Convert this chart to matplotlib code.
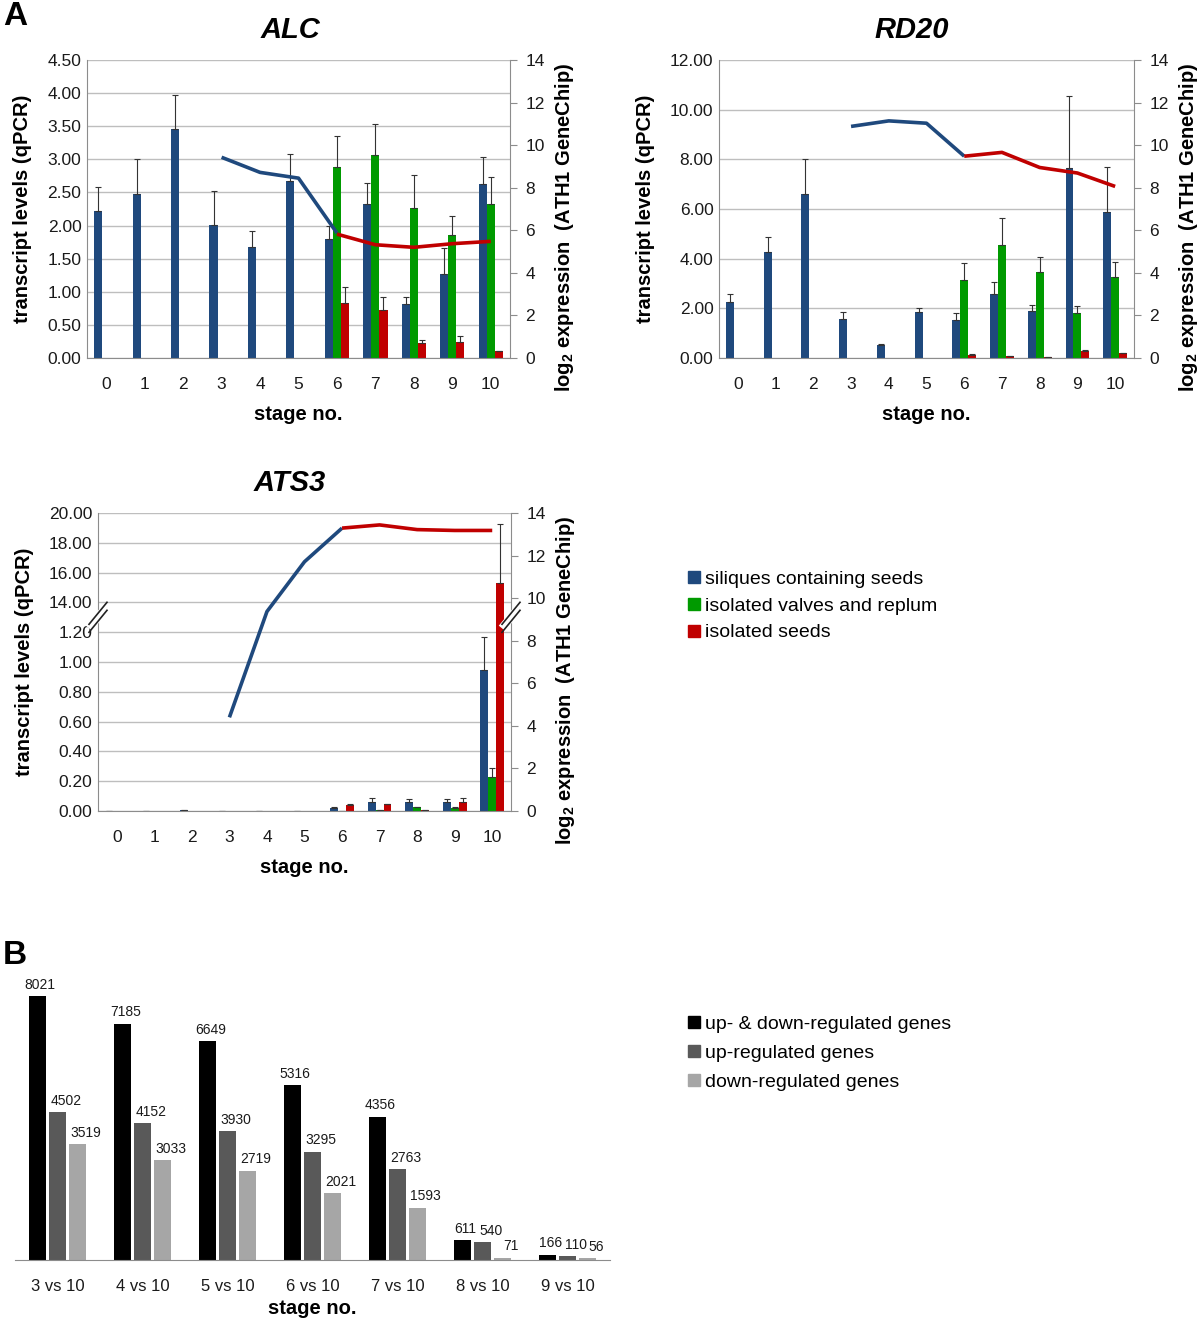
import matplotlib
matplotlib.use("Agg")
import matplotlib.pyplot as plt
import numpy as np
from matplotlib.lines import Line2D

plt.rcParams['font.family'] = ['Liberation Sans', 'DejaVu Sans']
plt.rcParams['mathtext.fontset'] = 'custom'
plt.rcParams['mathtext.rm'] = 'Liberation Sans'
plt.rcParams['mathtext.bf'] = 'Liberation Sans:bold'

# ---- data, panel A ----
stages = np.arange(11)
tissue_stages = np.arange(6, 11)
chip_sil_stages = np.arange(3, 7)
chip_seed_stages = np.arange(6, 11)

alc_sil = [2.22, 2.48, 3.46, 2.01, 1.68, 2.67, 1.80, 2.32, 0.81, 1.27, 2.63]
alc_sil_err = [0.36, 0.52, 0.51, 0.51, 0.24, 0.41, 0.20, 0.33, 0.11, 0.39, 0.40]
alc_valve = [2.88, 3.06, 2.27, 1.86, 2.32]
alc_valve_err = [0.47, 0.47, 0.50, 0.28, 0.42]
alc_seed = [0.83, 0.72, 0.23, 0.24, 0.10]
alc_seed_err = [0.24, 0.20, 0.04, 0.09, 0.01]
alc_chip_sil = [9.43, 8.72, 8.45, 5.87]
alc_chip_seed = [5.82, 5.32, 5.20, 5.37, 5.48]

rd20_sil = [2.25, 4.26, 6.59, 1.57, 0.51, 1.85, 1.54, 2.59, 1.88, 7.67, 5.88]
rd20_sil_err = [0.32, 0.63, 1.42, 0.28, 0.05, 0.16, 0.27, 0.47, 0.26, 2.87, 1.81]
rd20_valve = [3.14, 4.56, 3.46, 1.82, 3.28]
rd20_valve_err = [0.68, 1.07, 0.59, 0.27, 0.57]
rd20_seed = [0.13, 0.07, 0.05, 0.29, 0.21]
rd20_seed_err = [0.02, 0.01, 0.01, 0.02, 0.01]
rd20_chip_sil = [10.88, 11.14, 11.03, 9.48]
rd20_chip_seed = [9.48, 9.66, 8.95, 8.69, 8.06]

ats3_sil = [0.002, 0.002, 0.008, 0.002, 0.002, 0.002, 0.022, 0.06, 0.06, 0.06, 0.948]
ats3_sil_err = [0, 0, 0, 0, 0, 0, 0.004, 0.025, 0.023, 0.023, 0.218]
ats3_valve = [0.003, 0.007, 0.025, 0.02, 0.231]
ats3_valve_err = [0, 0, 0.005, 0.005, 0.056]
ats3_seed = [0.038, 0.045, 0.006, 0.06, 15.28]
ats3_seed_err = [0.011, 0.005, 0, 0.025, 4.0]
ats3_chip_sil = [4.40, 9.37, 11.71, 13.29]
ats3_chip_seed = [13.29, 13.44, 13.22, 13.18, 13.18]

tissue_labels = ['siliques containing seeds', 'isolated valves and replum', 'isolated seeds']

# ---- data, panel B ----
comparisons = ['3 vs 10', '4 vs 10', '5 vs 10', '6 vs 10', '7 vs 10', '8 vs 10', '9 vs 10']
genes_all = [8021, 7185, 6649, 5316, 4356, 611, 166]
genes_up = [4502, 4152, 3930, 3295, 2763, 540, 110]
genes_down = [3519, 3033, 2719, 2021, 1593, 71, 56]
gene_labels = ['up- & down-regulated genes', 'up-regulated genes', 'down-regulated genes']

BLUE = '#1F497D'
GREEN = '#009A00'
RED = '#C00000'
GRAY = '#8C8C8C'
TXT = '#1A1A1A'

fig = plt.figure(figsize=(12, 13.21), dpi=100)
H = 1321.0


def px_axes(left, right, top, bottom):
    return fig.add_axes([left / 1200.0, 1 - bottom / H, (right - left) / 1200.0, (bottom - top) / H])


def draw_panel(ax, title, sil, sil_err, valve, valve_err, seed, seed_err, chip_sil, chip_seed, title_x):
    w = 0.21
    ekw = dict(ecolor='#333333', elinewidth=0.8, capsize=2, capthick=0.8)
    ax.bar(stages - w, sil, w, color=BLUE, yerr=[np.zeros(len(sil)), sil_err], error_kw=ekw, zorder=2)
    ax.bar(tissue_stages, valve, w, color=GREEN, yerr=[np.zeros(len(valve)), valve_err], error_kw=ekw, zorder=2)
    ax.bar(tissue_stages + w, seed, w, color=RED, yerr=[np.zeros(len(seed)), seed_err], error_kw=ekw, zorder=2)
    ax.set_xlim(-0.5, 10.5)
    ax.set_xticks(stages)
    ax.yaxis.grid(True, color='#BEBEBE', lw=1)
    ax.set_axisbelow(True)
    ax.spines['top'].set_visible(False)
    ax.spines['right'].set_visible(False)
    for s in ('left', 'bottom'):
        ax.spines[s].set_color(GRAY)
    ax.tick_params(axis='both', length=0, labelsize=12.5, labelcolor=TXT)
    ax.tick_params(axis='x', pad=14)
    ax.tick_params(axis='y', pad=4)
    ax.set_xlabel('stage no.', fontsize=14.5, fontweight='bold', labelpad=9)
    ax.set_ylabel('transcript levels (qPCR)', fontsize=14.5, fontweight='bold', labelpad=11)
    ax.set_title(title, fontsize=21, fontweight='bold', style='italic', pad=16, x=title_x)

    ax2 = ax.twinx()
    ax2.plot(chip_sil_stages, chip_sil, color=BLUE, lw=2.6, solid_capstyle='butt')
    ax2.plot(chip_seed_stages, chip_seed, color=RED, lw=2.6, solid_capstyle='butt')
    ax2.set_ylim(0, 14)
    ax2.set_yticks(np.arange(0, 15, 2))
    for s in ('top', 'left', 'bottom'):
        ax2.spines[s].set_visible(False)
    ax2.spines['right'].set_color(GRAY)
    ax2.tick_params(axis='y', length=5, color=GRAY, labelsize=12.5, labelcolor=TXT, pad=6)
    ax2.set_ylabel(r'log$_\mathbf{2}$ expression  (ATH1 GeneChip)', fontsize=14.5,
                   fontweight='bold', labelpad=6)
    ax2.yaxis.label.set_y(0.44)
    return ax2


# ALC
ax = px_axes(87, 510, 60, 358)
draw_panel(ax, 'ALC', alc_sil, alc_sil_err, alc_valve, alc_valve_err, alc_seed, alc_seed_err,
           alc_chip_sil, alc_chip_seed, 0.48)
ax.set_ylim(0, 4.5)
ax.set_yticks(np.arange(0, 4.51, 0.5))
ax.yaxis.set_major_formatter('{x:.2f}')

# RD20
ax = px_axes(719, 1134, 60, 358)
draw_panel(ax, 'RD20', rd20_sil, rd20_sil_err, rd20_valve, rd20_valve_err, rd20_seed, rd20_seed_err,
           rd20_chip_sil, rd20_chip_seed, 0.465)
ax.set_ylim(0, 12)
ax.set_yticks(np.arange(0, 12.1, 2))
ax.yaxis.set_major_formatter('{x:.2f}')


# ATS3 with broken axis: 0-1.2 and 14-20 on one scale
def fwd(v):
    v = np.asarray(v, dtype=float)
    return np.where(v <= 1.2, v / 0.2, np.where(v <= 14, 6 + (v - 1.2) / 12.8, 7 + (v - 14) / 2.0))


def inv(y):
    y = np.asarray(y, dtype=float)
    return np.where(y <= 6, y * 0.2, np.where(y <= 7, 1.2 + (y - 6) * 12.8, 14 + (y - 7) * 2.0))


ax = px_axes(98, 511, 513, 811)
ax.set_yscale('function', functions=(fwd, inv))
ax2 = draw_panel(ax, 'ATS3', ats3_sil, ats3_sil_err, ats3_valve, ats3_valve_err, ats3_seed, ats3_seed_err,
                 ats3_chip_sil, ats3_chip_seed, 0.465)
ax.set_ylim(0, 20)
ax.set_yticks([0, 0.2, 0.4, 0.6, 0.8, 1.0, 1.2, 14, 16, 18, 20])
ax.yaxis.set_major_formatter('{x:.2f}')
ax.yaxis.set_minor_locator(matplotlib.ticker.NullLocator())

# break marks
aw, ah = 413.0, 298.0
yc = 0.65
dx, dy, sep = 9 / aw, 11 / ah, 4 / ah
for xc in (0.0, 1.0):
    ax2.plot([xc - dx, xc + dx], [yc - dy, yc + dy], transform=ax2.transAxes, color='white',
             lw=6, clip_on=False, zorder=10, solid_capstyle='butt')
    for o in (-sep, sep):
        ax2.plot([xc - dx, xc + dx], [yc - dy + o, yc + dy + o], transform=ax2.transAxes,
                 color='#222222', lw=1.2, clip_on=False, zorder=11)

# legend A
handles = [Line2D([], [], marker='s', ls='none', color=c, markersize=8) for c in (BLUE, GREEN, RED)]
fig.legend(handles, tissue_labels, loc='upper left', bbox_to_anchor=(684 / 1200.0, 1 - 570 / H),
           frameon=False, fontsize=14, handletextpad=0.1, labelspacing=0.48, handlelength=1.0,
           borderpad=0, borderaxespad=0)

# ---- panel B ----
axb = px_axes(15, 610, 977, 1260)
xb = np.arange(len(comparisons))
bw = 0.2
off = 0.235
for vals, col, dxo, shift in ((genes_all, 'black', -off, 2), (genes_up, '#595959', 0, 6),
                              (genes_down, '#A6A6A6', off, 6)):
    bars = axb.bar(xb + dxo, vals, bw, color=col)
    for rect, v in zip(bars, vals):
        axb.annotate(str(v), (rect.get_x() + rect.get_width() / 2, rect.get_height()), xytext=(shift, 3),
                     textcoords='offset points', ha='center', va='bottom', fontsize=10, color=TXT)
axb.set_xlim(-0.5, 6.5)
axb.set_ylim(0, 8600)
axb.set_xticks(xb)
axb.set_xticklabels(comparisons)
axb.set_yticks([])
for s in ('top', 'left', 'right'):
    axb.spines[s].set_visible(False)
axb.spines['bottom'].set_color(GRAY)
axb.tick_params(axis='x', length=0, labelsize=12, labelcolor=TXT, pad=14)
axb.set_xlabel('stage no.', fontsize=14.5, fontweight='bold', labelpad=3)

handles_b = [Line2D([], [], marker='s', ls='none', color=c, markersize=8) for c in ('black', '#595959', '#A6A6A6')]
fig.legend(handles_b, gene_labels, loc='upper left', bbox_to_anchor=(684 / 1200.0, 1 - 1015 / H),
           frameon=False, fontsize=14, handletextpad=0.1, labelspacing=0.6, handlelength=1.0,
           borderpad=0, borderaxespad=0)

fig.text(3 / 1200.0, 1 - 1 / H, 'A', fontsize=24, fontweight='bold', va='top', ha='left')
fig.text(3 / 1200.0, 1 - 940 / H, 'B', fontsize=24, fontweight='bold', va='top', ha='left')

fig.savefig('out.png', dpi=100)
